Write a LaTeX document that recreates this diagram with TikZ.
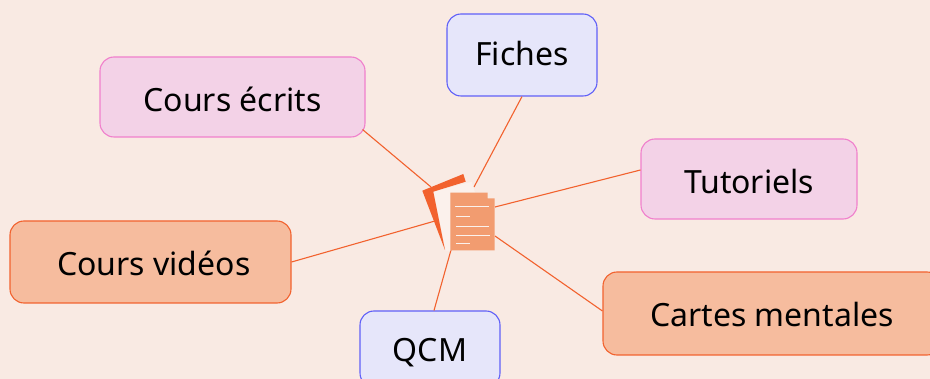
\documentclass[tikz,border=0pt]{standalone}
\usepackage{fontspec}
\setmainfont{Noto Sans}
\definecolor{bgc}{HTML}{F9EAE3}
\definecolor{pinkf}{HTML}{F3D2E7}
\definecolor{pinkd}{HTML}{F080CC}
\definecolor{bluef}{HTML}{E6E6FA}
\definecolor{blued}{HTML}{6060F8}
\definecolor{orf}{HTML}{F6BC9E}
\definecolor{ord}{HTML}{F2622E}
\definecolor{docf}{HTML}{F29C70}
\definecolor{paper}{HTML}{FBF1EC}
\tikzset{
 x=1pt,y=-1pt,
 box/.style={rounded corners=14pt,line width=1.1pt,inner sep=0pt,font=\fontsize{32}{38}\selectfont,text=black},
 pinkbox/.style={box,draw=pinkd,fill=pinkf},
 bluebox/.style={box,draw=blued,fill=bluef},
 orbox/.style={box,draw=ord,fill=orf},
 txt/.style 2 args={text height=#1pt,text depth=#2pt},
 link/.style={draw=ord,line width=1.1pt},
 docline/.style={draw=paper,line width=0.8pt}
}
\begin{document}
\begin{tikzpicture}
\useasboundingbox (0,0) rectangle (930,379);
\clip (0,0) rectangle (930,379);
\fill[bgc] (0,0) rectangle (930,379);
\node[pinkbox,txt={30}{0},minimum width=265pt,minimum height=80pt] (ecrits) at (232.5,97) {Cours écrits};
\node[bluebox,txt={26}{4},minimum width=150pt,minimum height=82pt] (fiches) at (522,55) {Fiches};
\node[pinkbox,txt={30}{0},minimum width=216pt,minimum height=80pt] (tuto) at (749,179) {Tutoriels};
\node[orbox,txt={28.7}{1.3},minimum width=281pt,minimum height=82pt] (videos) at (150.5,262) {\hspace*{6.6pt}Cours vidéos};
\node[orbox,txt={28.2}{1.8},minimum width=338pt,minimum height=83pt] (cartes) at (772,313.5) {Cartes mentales};
\node[bluebox,txt={27.3}{2.7},minimum width=140pt,minimum height=76pt] (qcm) at (430,349) {QCM};
\node[minimum width=73pt,minimum height=76pt,inner sep=0pt] (doc) at (458.5,213) {};
\coordinate (dEcrits) at (431,187);
\coordinate (dFiches) at (474,187);
\coordinate (dTuto) at (495,207);
\coordinate (dVideos) at (435,221);
\coordinate (dCartes) at (495,236);
\coordinate (dQcm) at (451,250);
\draw[link] ([xshift=-3pt,yshift=8pt]ecrits.south east) -- (dEcrits);
\draw[link] (fiches.south) -- (dFiches);
\draw[link] ([yshift=9pt]tuto.west) -- (dTuto);
\draw[link] (videos.east) -- (dVideos);
\draw[link] ([yshift=2.5pt]cartes.west) -- (dCartes);
\draw[link] ([xshift=4pt]qcm.north) -- (dQcm);
\fill[paper] (433.3,191.7) -- (471.7,181.7) -- (475,192.7) -- (450.7,192.7) -- (450.7,250.7) -- (445.7,250.7) -- cycle;
\fill[ord] (422.3,190.7) -- (463.3,174) -- (465.7,181.7) -- (433.3,191.7) -- (445,250) -- cycle;
\fill[docf] (450.3,192.7) -- (487.7,192.7) -- (487.7,198.3) -- (494.7,198.3) -- (494.7,250.3) -- (450.3,250.3) -- cycle;
\draw[docline] (455,206.7) -- (489,206.7);
\draw[docline] (456,216.7) -- (470,216.7);
\draw[docline] (456,226.3) -- (489.3,226.3);
\draw[docline] (456,235.3) -- (490,235.3);
\draw[docline] (456,243) -- (469.7,243);
\end{tikzpicture}
\end{document}
